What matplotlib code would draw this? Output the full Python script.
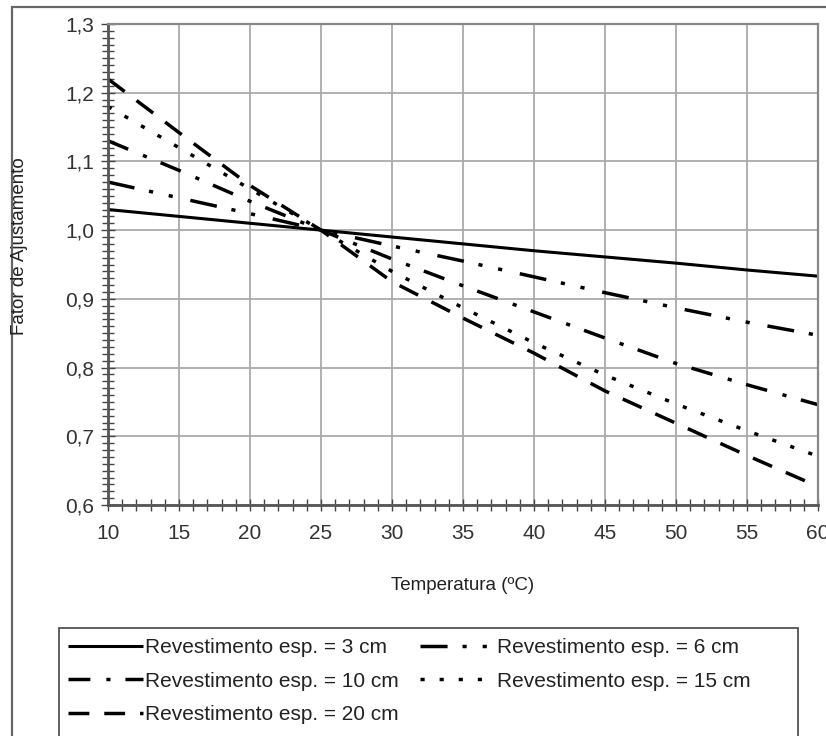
#!/usr/bin/env python3
# coding: utf-8
import matplotlib as mpl
mpl.use('agg')
import matplotlib.pyplot as plt
from matplotlib.patches import Rectangle
from matplotlib.ticker import MultipleLocator

plt.rcParams['font.family'] = ['Liberation Sans', 'DejaVu Sans']

# Temperatura (ºC) e fator de ajustamento por espessura do revestimento
temp = [10, 15, 20, 25, 30, 35, 40, 45, 50, 55, 60]
f3 = [1.030, 1.020, 1.010, 1.000, 0.990, 0.980, 0.970, 0.961, 0.952, 0.942, 0.933]
f6 = [1.070, 1.047, 1.024, 1.000, 0.977, 0.955, 0.932, 0.909, 0.887, 0.866, 0.847]
f10 = [1.130, 1.087, 1.042, 1.000, 0.958, 0.919, 0.881, 0.843, 0.806, 0.775, 0.746]
f15 = [1.180, 1.120, 1.060, 1.000, 0.940, 0.887, 0.836, 0.789, 0.747, 0.708, 0.671]
f20 = [1.220, 1.142, 1.065, 1.000, 0.925, 0.872, 0.821, 0.766, 0.719, 0.672, 0.627]

labels = ['Revestimento esp. = 3 cm', 'Revestimento esp. = 6 cm',
          'Revestimento esp. = 10 cm', 'Revestimento esp. = 15 cm',
          'Revestimento esp. = 20 cm']

xticks = [10, 15, 20, 25, 30, 35, 40, 45, 50, 55, 60]
yticks = [0.6, 0.7, 0.8, 0.9, 1.0, 1.1, 1.2, 1.3]
ytick_labels = ['0,6', '0,7', '0,8', '0,9', '1,0', '1,1', '1,2', '1,3']

W, H = 826, 736
fig = plt.figure(figsize=(W / 100, H / 100), dpi=100)
ax = fig.add_axes([108 / W, 1 - 505 / H, (818 - 108) / W, (505 - 24) / H])

# outer frame (cut by the image edges on the right and at the bottom)
fig.add_artist(Rectangle((12 / W, -0.5), 2, 0.5 + 1 - 7 / H, transform=fig.transFigure,
                         fill=False, edgecolor='#666666', lw=1.6))

lw = 2.5
h3, = ax.plot(temp, f3, color='black', lw=2.2, solid_capstyle='butt')
h6, = ax.plot(temp, f6, color='black', lw=lw, dashes=(7.8, 4.3, 1.2, 4.6, 1.2, 5.2))
h10, = ax.plot(temp, f10, color='black', lw=lw, dashes=(6.3, 4.6, 1.2, 4.3))
h15, = ax.plot(temp, f15, color='black', lw=lw, dashes=(1.2, 4.3))
h20, = ax.plot(temp, f20, color='black', lw=lw, dashes=(6.0, 4.3))

ax.set_xlim(10, 60)
ax.set_ylim(0.6, 1.3)
ax.set_xticks(xticks)
ax.set_yticks(yticks)
ax.set_yticklabels(ytick_labels)
ax.xaxis.set_minor_locator(MultipleLocator(1))
ax.yaxis.set_minor_locator(MultipleLocator(0.01))
ax.grid(True, which='major', color='#aaaaaa', lw=1.3)
ax.set_axisbelow(True)

ax.tick_params(axis='both', which='both', direction='inout', color='#444444',
               labelcolor='#333333', labelsize=15)
ax.tick_params(axis='x', which='both', length=8, width=1.0, pad=10)
ax.tick_params(axis='y', which='both', length=8, width=1.0, pad=5)
ax.tick_params(axis='y', which='major', length=10)

for s in ['left', 'bottom']:
    ax.spines[s].set_color('#555555')
    ax.spines[s].set_linewidth(2.0)
for s in ['top', 'right']:
    ax.spines[s].set_color('#888888')
    ax.spines[s].set_linewidth(1.6)

fig.text(463 / W, 1 - 585 / H, 'Temperatura (ºC)', ha='center', va='center',
         fontsize=13.5, color='#222222')
fig.text(20 / W, 1 - 246 / H, 'Fator de Ajustamento', ha='center', va='center',
         rotation=90, fontsize=13.5, color='#222222')

# legend box (runs off the bottom of the image)
fig.add_artist(Rectangle((59 / W, -0.5), (798 - 59) / W, 0.5 + 1 - 628 / H,
                         transform=fig.transFigure, fill=False,
                         edgecolor='#444444', lw=1.2))

handles = [h3, h10, h20, h6, h15]
leg_labels = [labels[0], labels[2], labels[4], labels[1], labels[3]]
leg = fig.legend(handles, leg_labels, loc='upper left',
                 bbox_to_anchor=(68 / W, 1 - 638 / H), ncol=2, frameon=False,
                 fontsize=15, handlelength=3.6, handletextpad=0.1,
                 columnspacing=1.0, labelspacing=0.7, borderpad=0,
                 borderaxespad=0)
for t in leg.get_texts():
    t.set_color('#222222')

fig.savefig('out.png', dpi=100)
